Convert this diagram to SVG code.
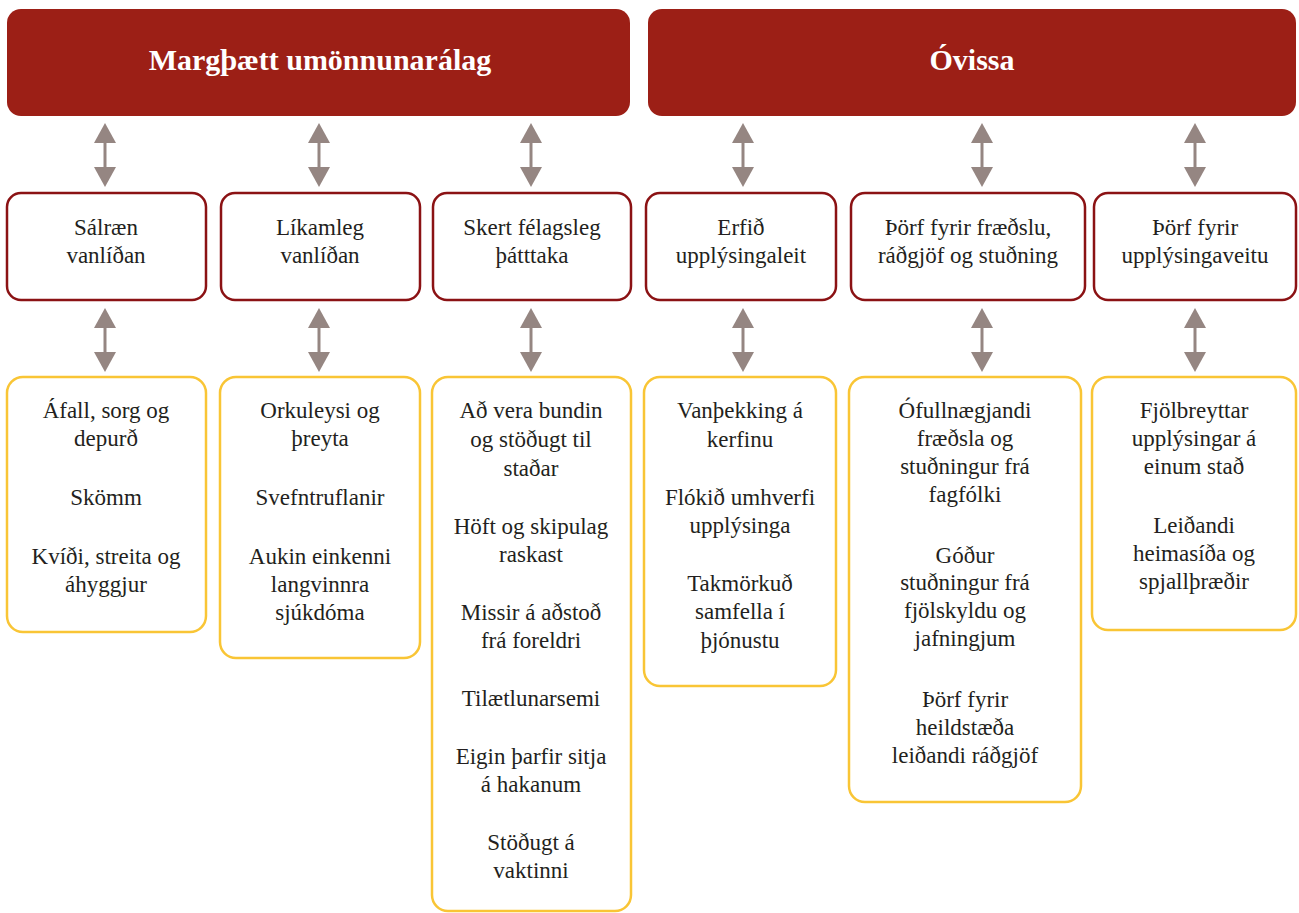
<svg xmlns="http://www.w3.org/2000/svg" width="1299" height="913" viewBox="0 0 1299 913">
<defs>
<style>
.hdr{fill:#9c1f16;}
.hdrt{fill:#ffffff;font-family:'Liberation Serif','DejaVu Serif','Times New Roman',Tinos,serif;font-weight:bold;font-size:30px;text-anchor:middle;}
.mid{fill:#ffffff;stroke:#8b1214;stroke-width:2.5;}
.bot{fill:#ffffff;stroke:#f9c535;stroke-width:2.5;}
.t{fill:#231f20;font-family:'Liberation Serif','DejaVu Serif','Times New Roman',Tinos,serif;font-size:23px;text-anchor:middle;}
.shaft{stroke:#958682;stroke-width:3;fill:none;}
.head{fill:#958682;}
</style>
<g id="dbl">
<line class="shaft" x1="0" y1="18" x2="0" y2="46"/>
<polygon class="head" points="0,0 11,20 -11,20"/>
<polygon class="head" points="0,64 11,44 -11,44"/>
</g>
</defs>
<rect width="1299" height="913" fill="#ffffff"/>

<g id="header-left">
<rect class="hdr" x="7" y="9" width="623" height="107" rx="14"/>
<text class="hdrt" x="320" y="70">Margþætt umönnunarálag</text>
</g>
<g id="header-right">
<rect class="hdr" x="648" y="9" width="648" height="107" rx="14"/>
<text class="hdrt" x="972" y="70">Óvissa</text>
</g>

<g id="connectors">
<use href="#dbl" x="105" y="123"/>
<use href="#dbl" x="319" y="123"/>
<use href="#dbl" x="531" y="123"/>
<use href="#dbl" x="743" y="123"/>
<use href="#dbl" x="982" y="123"/>
<use href="#dbl" x="1195" y="123"/>
<use href="#dbl" x="105" y="308"/>
<use href="#dbl" x="319" y="308"/>
<use href="#dbl" x="531" y="308"/>
<use href="#dbl" x="743" y="308"/>
<use href="#dbl" x="982" y="308"/>
<use href="#dbl" x="1195" y="308"/>
</g>

<g id="mid-1">
<rect class="mid" x="7" y="193" width="199" height="107" rx="14"/>
<text class="t" x="106" y="235">Sálræn</text>
<text class="t" x="106" y="263">vanlíðan</text>
</g>
<g id="mid-2">
<rect class="mid" x="221" y="193" width="199" height="107" rx="14"/>
<text class="t" x="320" y="235">Líkamleg</text>
<text class="t" x="320" y="263">vanlíðan</text>
</g>
<g id="mid-3">
<rect class="mid" x="433" y="193" width="198" height="107" rx="14"/>
<text class="t" x="532" y="235">Skert félagsleg</text>
<text class="t" x="532" y="263">þátttaka</text>
</g>
<g id="mid-4">
<rect class="mid" x="646" y="193" width="190" height="107" rx="14"/>
<text class="t" x="741" y="235">Erfið</text>
<text class="t" x="741" y="263">upplýsingaleit</text>
</g>
<g id="mid-5">
<rect class="mid" x="851" y="193" width="234" height="107" rx="14"/>
<text class="t" x="968" y="235">Þörf fyrir fræðslu,</text>
<text class="t" x="968" y="263">ráðgjöf og stuðning</text>
</g>
<g id="mid-6">
<rect class="mid" x="1094" y="193" width="202" height="107" rx="14"/>
<text class="t" x="1195" y="235">Þörf fyrir</text>
<text class="t" x="1195" y="263">upplýsingaveitu</text>
</g>

<g id="bot-1">
<rect class="bot" x="7" y="377" width="199" height="255" rx="16"/>
<text class="t" x="106" y="418">Áfall, sorg og</text>
<text class="t" x="106" y="446">depurð</text>
<text class="t" x="106" y="505">Skömm</text>
<text class="t" x="106" y="564">Kvíði, streita og</text>
<text class="t" x="106" y="592">áhyggjur</text>
</g>
<g id="bot-2">
<rect class="bot" x="220" y="377" width="200" height="281" rx="16"/>
<text class="t" x="320" y="418">Orkuleysi og</text>
<text class="t" x="320" y="446">þreyta</text>
<text class="t" x="320" y="505">Svefntruflanir</text>
<text class="t" x="320" y="564">Aukin einkenni</text>
<text class="t" x="320" y="592">langvinnra</text>
<text class="t" x="320" y="620">sjúkdóma</text>
</g>
<g id="bot-3">
<rect class="bot" x="432" y="377" width="199" height="534" rx="16"/>
<text class="t" x="531" y="418">Að vera bundin</text>
<text class="t" x="531" y="447">og stöðugt til</text>
<text class="t" x="531" y="476">staðar</text>
<text class="t" x="531" y="534">Höft og skipulag</text>
<text class="t" x="531" y="562">raskast</text>
<text class="t" x="531" y="620">Missir á aðstoð</text>
<text class="t" x="531" y="648">frá foreldri</text>
<text class="t" x="531" y="706">Tilætlunarsemi</text>
<text class="t" x="531" y="764">Eigin þarfir sitja</text>
<text class="t" x="531" y="792">á hakanum</text>
<text class="t" x="531" y="850">Stöðugt á</text>
<text class="t" x="531" y="878">vaktinni</text>
</g>
<g id="bot-4">
<rect class="bot" x="644" y="377" width="192" height="309" rx="16"/>
<text class="t" x="740" y="418">Vanþekking á</text>
<text class="t" x="740" y="447">kerfinu</text>
<text class="t" x="740" y="505">Flókið umhverfi</text>
<text class="t" x="740" y="533">upplýsinga</text>
<text class="t" x="740" y="591">Takmörkuð</text>
<text class="t" x="740" y="619">samfella í</text>
<text class="t" x="740" y="648">þjónustu</text>
</g>
<g id="bot-5">
<rect class="bot" x="849" y="377" width="232" height="425" rx="16"/>
<text class="t" x="965" y="418">Ófullnægjandi</text>
<text class="t" x="965" y="446">fræðsla og</text>
<text class="t" x="965" y="474">stuðningur frá</text>
<text class="t" x="965" y="502">fagfólki</text>
<text class="t" x="965" y="563">Góður</text>
<text class="t" x="965" y="590">stuðningur frá</text>
<text class="t" x="965" y="618">fjölskyldu og</text>
<text class="t" x="965" y="646">jafningjum</text>
<text class="t" x="965" y="707">Þörf fyrir</text>
<text class="t" x="965" y="735">heildstæða</text>
<text class="t" x="965" y="763">leiðandi ráðgjöf</text>
</g>
<g id="bot-6">
<rect class="bot" x="1092" y="377" width="204" height="253" rx="16"/>
<text class="t" x="1194" y="418">Fjölbreyttar</text>
<text class="t" x="1194" y="446">upplýsingar á</text>
<text class="t" x="1194" y="474">einum stað</text>
<text class="t" x="1194" y="533">Leiðandi</text>
<text class="t" x="1194" y="561">heimasíða og</text>
<text class="t" x="1194" y="589">spjallþræðir</text>
</g>
</svg>
